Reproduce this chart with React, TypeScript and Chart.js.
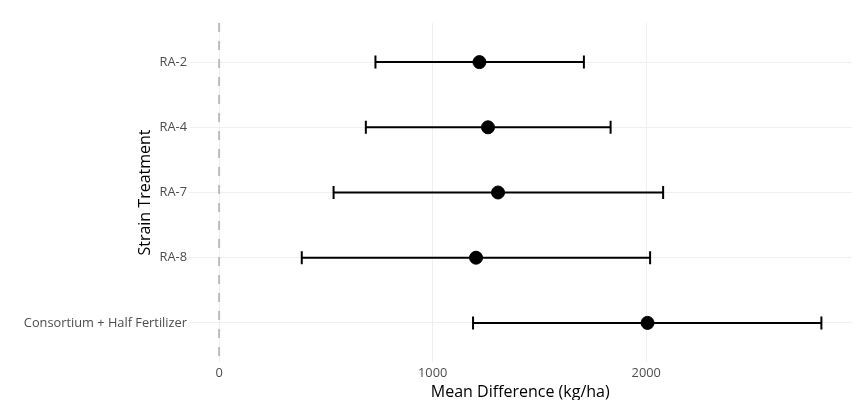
import React, { useEffect, useRef } from "react";
import { Chart, registerables } from "chart.js";

Chart.register(...registerables);

const categories = ["RA-2", "RA-4", "RA-7", "RA-8", "Consortium + Half Fertilizer"];
const means = [1219, 1259, 1306, 1203, 2006];
const lowers = [732, 687, 536, 387, 1189];
const uppers = [1708, 1833, 2079, 2018, 2820];
const xTicks = [0, 1000, 2000];
const xMin = -141;
const xMax = 2961;
const yMin = -0.6;
const yMax = 4.6;

const FONT = "'Open Sans', sans-serif";

export default function App() {
  const ref = useRef<HTMLCanvasElement | null>(null);

  useEffect(() => {
    document.body.style.margin = "0";
    const canvas = ref.current;
    if (!canvas) return;

    const errorSets = categories.map((c, i) => ({
      type: "line" as const,
      label: c + " CI",
      data: [
        { x: lowers[i], y: i },
        { x: uppers[i], y: i },
      ],
      borderColor: "#000000",
      borderWidth: 2,
      pointStyle: "line" as const,
      rotation: 90,
      pointRadius: 6.5,
      pointBorderWidth: 2,
      pointBorderColor: "#000000",
      pointHoverRadius: 6.5,
      fill: false,
      order: 2,
    }));

    const chart = new Chart(canvas, {
      type: "scatter",
      data: {
        datasets: [
          {
            type: "line",
            label: "zero",
            data: [
              { x: 0, y: yMin },
              { x: 0, y: yMax },
            ],
            borderColor: "#bdbdbd",
            borderWidth: 2,
            borderDash: [9, 9],
            pointRadius: 0,
            fill: false,
            order: 3,
          } as any,
          ...(errorSets as any[]),
          {
            type: "scatter",
            label: "Mean",
            data: means.map((m, i) => ({ x: m, y: i })),
            backgroundColor: "#000000",
            borderColor: "#000000",
            pointRadius: 6.5,
            pointHoverRadius: 6.5,
            order: 1,
          },
        ],
      },
      options: {
        animation: false,
        responsive: false,
        maintainAspectRatio: false,
        devicePixelRatio: 1,
        layout: { padding: { top: 23, right: 6, left: 0, bottom: 0 } },
        plugins: {
          legend: { display: false },
          tooltip: { enabled: false },
        },
        scales: {
          x: {
            type: "linear",
            min: xMin,
            max: xMax,
            afterBuildTicks: (s: any) => {
              s.ticks = xTicks.map((v) => ({ value: v }));
            },
            afterFit: (s: any) => {
              s.height = 38;
            },
            border: { display: false },
            grid: { color: "#efefef", lineWidth: 1, drawTicks: false },
            ticks: {
              color: "#4d4d4d",
              font: { family: FONT, size: 12.8 },
              padding: 4,
              maxRotation: 0,
              callback: (v: any) => String(v),
            },
            title: {
              display: true,
              text: "Mean Difference (kg/ha)",
              color: "#000000",
              font: { family: FONT, size: 16 },
              padding: { top: 0, bottom: -2 },
            },
          },
          y: {
            type: "linear",
            min: yMin,
            max: yMax,
            reverse: true,
            afterBuildTicks: (s: any) => {
              s.ticks = categories.map((_, i) => ({ value: i }));
            },
            afterFit: (s: any) => {
              s.width = 189;
            },
            border: { display: false },
            grid: { color: "#efefef", lineWidth: 1, drawTicks: false },
            ticks: {
              color: "#4d4d4d",
              font: { family: FONT, size: 12.8 },
              padding: 2,
              callback: (v: any) => categories[Number(v)] ?? "",
            },
            title: {
              display: true,
              text: "Strain Treatment",
              color: "#000000",
              font: { family: FONT, size: 16 },
              padding: { top: 136, bottom: 0 },
            },
          },
        },
      },
    });

    return () => chart.destroy();
  }, []);

  return (
    <div style={{ width: 860, height: 400, position: "relative", background: "#ffffff" }}>
      <canvas ref={ref} width={860} height={400} style={{ width: 860, height: 400, display: "block" }} />
    </div>
  );
}
